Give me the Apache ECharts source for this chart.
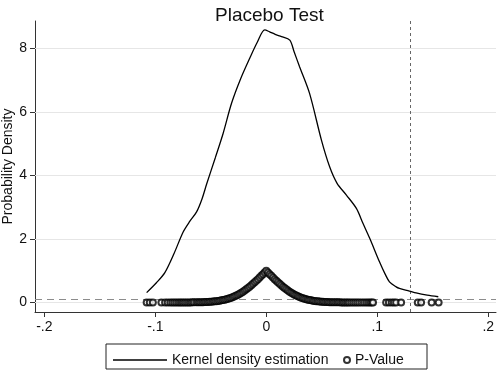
<!DOCTYPE html>
<html>
<head>
<meta charset="utf-8">
<script src="https://cdn.jsdelivr.net/npm/echarts@6/dist/echarts.min.js"></script>
<style>
  html, body { margin: 0; padding: 0; background: #fff; }
  #chart { width: 498px; height: 370px; }
</style>
</head>
<body>
<div id="chart"></div>
<script>
// kernel density of the placebo coefficients
var densX = [-0.1078, -0.0990, -0.0914, -0.0830, -0.0749, -0.0690, -0.0628, -0.0580, -0.0538, -0.0460,
  -0.0389, -0.0313, -0.0230, -0.0149, -0.0080, -0.0014, 0.0030, 0.0080, 0.0137, 0.0212,
  0.0250, 0.0300, 0.0390, 0.0497, 0.0571, 0.0638, 0.0722, 0.0812, 0.0870, 0.0932,
  0.1020, 0.1070, 0.1110, 0.1170, 0.1200, 0.1290, 0.1350, 0.1450, 0.1550];
var densY = [0.31, 0.62, 0.94, 1.55, 2.22, 2.55, 2.85, 3.25, 3.72, 4.55,
  5.32, 6.27, 7.05, 7.69, 8.20, 8.58, 8.52, 8.44, 8.37, 8.26,
  7.90, 7.42, 6.58, 5.11, 4.27, 3.75, 3.38, 2.96, 2.50, 2.02,
  1.28, 0.90, 0.65, 0.49, 0.44, 0.36, 0.30, 0.23, 0.18];

// placebo coefficients and their p-values
var coefX = [-0.1078, -0.1050, -0.1022, -0.0945, -0.0912, -0.0888, -0.0865, -0.0846, -0.0828, -0.0810,
  -0.0792, -0.0776, -0.0760, -0.0744, -0.0728, -0.0712, -0.0696, -0.0680, -0.0665, -0.0650,
  -0.0630, -0.0615, -0.0600, -0.0585, -0.0570, -0.0555, -0.0540, -0.0525, -0.0510, -0.0495,
  -0.0480, -0.0465, -0.0450, -0.0435, -0.0420, -0.0405, -0.0390, -0.0375, -0.0360, -0.0345,
  -0.0330, -0.0315, -0.0300, -0.0285, -0.0270, -0.0255, -0.0240, -0.0225, -0.0210, -0.0195,
  -0.0180, -0.0165, -0.0150, -0.0135, -0.0120, -0.0105, -0.0090, -0.0075, -0.0060, -0.0045,
  -0.0030, -0.0015, 0.0000, 0.0015, 0.0030, 0.0045, 0.0060, 0.0075, 0.0090, 0.0105,
  0.0120, 0.0135, 0.0150, 0.0165, 0.0180, 0.0195, 0.0210, 0.0225, 0.0240, 0.0255,
  0.0270, 0.0285, 0.0300, 0.0315, 0.0330, 0.0345, 0.0360, 0.0375, 0.0390, 0.0405,
  0.0420, 0.0435, 0.0450, 0.0465, 0.0480, 0.0495, 0.0510, 0.0525, 0.0540, 0.0555,
  0.0570, 0.0585, 0.0600, 0.0615, 0.0630, 0.0645, 0.0660, 0.0675, 0.0690, 0.0705,
  0.0720, 0.0735, 0.0750, 0.0768, 0.0786, 0.0804, 0.0822, 0.0840, 0.0860, 0.0880,
  0.0900, 0.0918, 0.0935, 0.0950, 0.0962, 0.1080, 0.1105, 0.1130, 0.1150, 0.1170,
  0.1215, 0.1365, 0.1395, 0.1490, 0.1553];
var pValue = [0.000, 0.000, 0.000, 0.000, 0.000, 0.000, 0.000, 0.000, 0.000, 0.000,
  0.000, 0.000, 0.001, 0.001, 0.001, 0.001, 0.002, 0.002, 0.003, 0.003,
  0.004, 0.005, 0.006, 0.008, 0.010, 0.012, 0.014, 0.017, 0.020, 0.024,
  0.029, 0.035, 0.041, 0.048, 0.056, 0.066, 0.076, 0.088, 0.102, 0.117,
  0.134, 0.152, 0.173, 0.195, 0.220, 0.246, 0.275, 0.306, 0.340, 0.376,
  0.413, 0.453, 0.495, 0.539, 0.586, 0.633, 0.682, 0.733, 0.785, 0.838,
  0.892, 0.946, 1.000, 0.946, 0.892, 0.838, 0.785, 0.733, 0.682, 0.633,
  0.586, 0.539, 0.495, 0.453, 0.413, 0.376, 0.340, 0.306, 0.275, 0.246,
  0.220, 0.195, 0.173, 0.152, 0.134, 0.117, 0.102, 0.088, 0.076, 0.066,
  0.056, 0.048, 0.041, 0.035, 0.029, 0.024, 0.020, 0.017, 0.014, 0.012,
  0.010, 0.008, 0.006, 0.005, 0.004, 0.003, 0.003, 0.002, 0.002, 0.001,
  0.001, 0.001, 0.001, 0.000, 0.000, 0.000, 0.000, 0.000, 0.000, 0.000,
  0.000, 0.000, 0.000, 0.000, 0.000, 0.000, 0.000, 0.000, 0.000, 0.000,
  0.000, 0.000, 0.000, 0.000, 0.000];

var xTicks = [-0.2, -0.1, 0, 0.1, 0.2];
var xTickLabels = ['-.2', '-.1', '0', '.1', '.2'];
var yTicks = [0, 2, 4, 6, 8];
var trueCoef = 0.1343;   // vertical dashed line
var pCutoff = 0.1;       // horizontal dashed line

var font = 'Liberation Sans, Arial, sans-serif';
var chart = echarts.init(document.getElementById('chart'));

var densData = densX.map(function (x, i) { return [x, densY[i]]; });
var pData = coefX.map(function (x, i) { return [x, pValue[i]]; });

var gridLines = yTicks.map(function (v) {
  return { yAxis: v, lineStyle: { color: '#e6e6e6', width: 1, type: 'solid' } };
});
gridLines.push({ yAxis: pCutoff, lineStyle: { color: '#8c8c8c', width: 1, type: [7, 5] } });
gridLines.push({ xAxis: trueCoef, lineStyle: { color: '#666', width: 1, type: [3, 3] } });

chart.setOption({
  animation: false,
  title: {
    text: 'Placebo Test',
    left: 210,
    top: 1,
    textStyle: { fontFamily: font, fontSize: 19, fontWeight: 'normal', color: '#111' }
  },
  grid: { left: 35, right: 2, top: 21, bottom: 58, outerBoundsMode: 'none' },
  legend: [{
    data: [{ name: 'Kernel density estimation', icon: 'path://M0,0L100,0L100,2.4L0,2.4Z' }],
    left: 108,
    top: 348,
    itemWidth: 54,
    itemHeight: 14,
    itemGap: 8,
    symbolKeepAspect: true,
    textStyle: { fontFamily: font, fontSize: 14, color: '#111' }
  }, {
    data: [{ name: 'P-Value', icon: 'emptyCircle' }],
    left: 338,
    top: 348,
    itemWidth: 6,
    itemHeight: 6,
    itemStyle: { borderWidth: 0.8 },
    textStyle: { fontFamily: font, fontSize: 14, color: '#111' }
  }],
  graphic: [{
    type: 'rect',
    shape: { x: 106, y: 344, width: 321, height: 25 },
    style: { fill: 'none', stroke: '#222', lineWidth: 1 }
  }],
  xAxis: {
    type: 'value',
    min: -0.2084,
    max: 0.207,
    axisLine: { onZero: false, lineStyle: { color: '#333' } },
    axisTick: { customValues: xTicks, length: 5, lineStyle: { color: '#333' } },
    axisLabel: {
      customValues: xTicks,
      fontFamily: font, fontSize: 14, color: '#111', margin: 8,
      formatter: function (v) {
        var i = xTicks.findIndex(function (t) { return Math.abs(t - v) < 1e-9; });
        return i >= 0 ? xTickLabels[i] : '';
      }
    },
    splitLine: { show: false }
  },
  yAxis: {
    type: 'value',
    min: -0.3,
    max: 8.86,
    name: 'Probability Density',
    nameLocation: 'middle',
    nameGap: 20,
    nameMoveOverlap: false,
    nameTextStyle: { fontFamily: font, fontSize: 14, color: '#111' },
    axisLine: { show: true, onZero: false, lineStyle: { color: '#333' } },
    axisTick: { show: true, customValues: yTicks, length: 5, lineStyle: { color: '#333' } },
    axisLabel: { customValues: yTicks, fontFamily: font, fontSize: 14, color: '#111', margin: 8 },
    splitLine: { show: false }
  },
  series: [{
    name: 'Kernel density estimation',
    type: 'line',
    data: densData,
    smooth: 0.3,
    symbol: 'none',
    lineStyle: { color: '#000', width: 1.3 },
    itemStyle: { color: '#000' },
    z: 3,
    markLine: {
      silent: true,
      symbol: 'none',
      label: { show: false },
      data: gridLines,
      z: 1
    }
  }, {
    name: 'P-Value',
    type: 'scatter',
    data: pData,
    symbol: 'emptyCircle',
    symbolSize: 6,
    itemStyle: { color: '#000', borderColor: '#000', borderWidth: 1.1 },
    z: 4
  }]
});
</script>
</body>
</html>
